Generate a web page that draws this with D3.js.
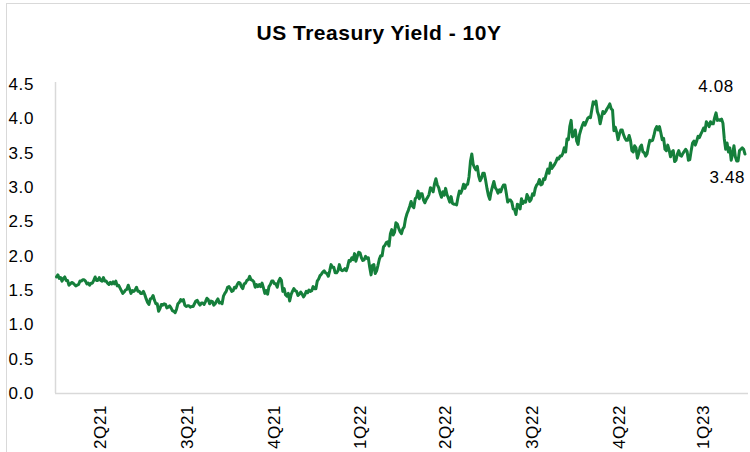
<!DOCTYPE html>
<html>
<head>
<meta charset="utf-8">
<script src="https://cdn.jsdelivr.net/npm/d3@7"></script>
<style>
  html, body { margin: 0; padding: 0; background: #fff; overflow: hidden; }
  text { font-family: "Liberation Sans", Arial, sans-serif; }
</style>
</head>
<body>
<svg id="chart" width="750" height="452"></svg>
<script>
// Daily 10-year US Treasury yield (%), one array per month
const apr21 = [1.69,1.72,1.67,1.68,1.63,1.67,1.69,1.64,1.64,1.57,1.59,1.61,1.60,1.58,1.56,1.57,1.58,1.63,1.63,1.65,1.65];
const may21 = [1.63,1.59,1.60,1.57,1.60,1.60,1.64,1.69,1.64,1.64,1.68,1.64,1.63,1.68,1.63,1.63,1.60,1.58,1.61,1.59];
const jun21 = [1.62,1.59,1.63,1.56,1.57,1.53,1.49,1.45,1.47,1.50,1.51,1.57,1.51,1.45,1.49,1.48,1.50,1.54,1.48,1.48,1.45,1.45];
const jul21 = [1.48,1.43,1.37,1.32,1.29,1.37,1.38,1.42,1.35,1.30,1.30,1.19,1.23,1.29,1.28,1.30,1.29,1.24,1.25,1.27,1.24];
const aug21 = [1.20,1.19,1.17,1.22,1.30,1.32,1.36,1.34,1.36,1.28,1.26,1.27,1.27,1.25,1.26,1.26,1.30,1.34,1.35,1.31,1.28,1.31];
const sep21 = [1.31,1.29,1.33,1.38,1.36,1.30,1.34,1.33,1.28,1.30,1.34,1.37,1.31,1.32,1.30,1.41,1.45,1.48,1.54,1.55,1.52];
const oct21 = [1.48,1.49,1.54,1.53,1.58,1.61,1.60,1.55,1.52,1.59,1.60,1.64,1.65,1.70,1.65,1.64,1.62,1.54,1.58,1.55];
const nov21 = [1.58,1.55,1.60,1.53,1.45,1.49,1.44,1.55,1.58,1.63,1.63,1.59,1.59,1.54,1.63,1.67,1.64,1.48,1.52,1.43];
const dec21 = [1.41,1.45,1.34,1.43,1.48,1.52,1.49,1.48,1.42,1.44,1.47,1.44,1.40,1.43,1.48,1.46,1.50,1.48,1.49,1.55,1.52,1.52];
const jan22 = [1.63,1.66,1.71,1.73,1.76,1.78,1.75,1.74,1.70,1.78,1.87,1.83,1.83,1.75,1.75,1.78,1.87,1.80,1.78,1.79];
const feb22 = [1.81,1.78,1.84,1.93,1.92,1.97,1.94,2.03,1.92,1.99,2.05,2.04,1.97,1.93,1.94,1.99,1.96,1.97,1.83];
const mar22 = [1.72,1.86,1.87,1.74,1.78,1.86,1.95,2.00,2.00,2.13,2.15,2.19,2.20,2.14,2.32,2.38,2.30,2.34,2.48,2.46,2.40,2.35,2.32];
const apr22 = [2.39,2.42,2.54,2.61,2.66,2.72,2.79,2.72,2.70,2.83,2.85,2.94,2.83,2.90,2.90,2.81,2.77,2.82,2.85,2.89];
const may22 = [2.99,2.97,2.93,3.05,3.12,3.03,2.99,2.91,2.85,2.93,2.88,2.98,2.89,2.84,2.78,2.86,2.76,2.75,2.75,2.74,2.85];
const jun22 = [2.94,2.91,2.96,3.04,2.98,3.03,3.04,3.15,3.37,3.48,3.33,3.28,3.25,3.30,3.16,3.09,3.13,3.20,3.20,3.10,2.98];
const jul22 = [2.88,2.82,2.93,3.01,3.08,2.99,2.96,2.91,2.96,2.93,2.99,3.03,3.03,2.91,2.78,2.81,2.81,2.78,2.68,2.67];
const aug22 = [2.60,2.75,2.73,2.68,2.83,2.76,2.79,2.78,2.89,2.85,2.79,2.82,2.90,2.88,2.98,3.03,3.05,3.11,3.03,3.04,3.12,3.11,3.19];
const sep22 = [3.26,3.20,3.35,3.27,3.30,3.33,3.37,3.42,3.41,3.45,3.45,3.49,3.57,3.51,3.70,3.69,3.88,3.97,3.73,3.76,3.83];
const oct22 = [3.67,3.62,3.76,3.83,3.89,3.94,3.90,3.95,4.00,4.02,4.01,4.13,4.24,4.21,4.25,4.10,4.04,3.92,4.01,4.10];
const nov22 = [4.07,4.10,4.14,4.17,4.21,4.14,4.12,3.82,3.87,3.80,3.69,3.77,3.83,3.83,3.76,3.71,3.68,3.68,3.75,3.68];
const dec22 = [3.53,3.51,3.60,3.57,3.42,3.49,3.58,3.61,3.51,3.50,3.45,3.48,3.59,3.68,3.67,3.68,3.75,3.84,3.88,3.83,3.88];
const jan23 = [3.79,3.69,3.71,3.55,3.53,3.61,3.54,3.44,3.51,3.53,3.37,3.39,3.48,3.53,3.46,3.45,3.49,3.52,3.55,3.52];
const feb23 = [3.39,3.40,3.53,3.64,3.67,3.61,3.67,3.74,3.72,3.77,3.81,3.86,3.82,3.95,3.92,3.88,3.95,3.92,3.92];
const mar23 = [4.01,4.08,3.97,3.98,3.97,3.99,3.93,3.70,3.55,3.64,3.51,3.57,3.39,3.48,3.60,3.44,3.38,3.38,3.53,3.55,3.57,3.55,3.48];

// Quarter labels and the months each one covers
const quarterLabels = ['2Q21','3Q21','4Q21','1Q22','2Q22','3Q22','4Q22','1Q23'];
const quarterMonths = [
  [apr21, may21, jun21], [jul21, aug21, sep21], [oct21, nov21, dec21],
  [jan22, feb22, mar22], [apr22, may22, jun22], [jul22, aug22, sep22],
  [oct22, nov22, dec22], [jan23, feb23, mar23]
];
const yTicks = [0, 0.5, 1, 1.5, 2, 2.5, 3, 3.5, 4, 4.5];

const series = quarterMonths.flat(2);
const n = series.length;

// centre index of each quarter, used for the category labels
const quarterCentres = [];
let start = 0;
quarterMonths.forEach(q => {
  const len = d3.sum(q, m => m.length);
  quarterCentres.push(start + (len - 1) / 2);
  start += len;
});

const W = 750, H = 452;
const plotLeft = 55, plotRight = 748, plotBottom = 393, plotTop = 84;
const FONT = '"Liberation Sans", Arial, sans-serif';

const svg = d3.select('#chart');
svg.append('rect').attr('width', W).attr('height', H).attr('fill', '#fff');

// chart frame
svg.append('rect')
  .attr('x', 6.5).attr('y', 3.5).attr('width', 800).attr('height', 500)
  .attr('fill', 'none').attr('stroke', '#d9d9d9').attr('stroke-width', 1);

const x = d3.scaleLinear().domain([0, n - 1]).range([56.5, 745]);
const y = d3.scaleLinear().domain([0, 4.5]).range([plotBottom, plotTop]);

// title
svg.append('text')
  .attr('x', 379).attr('y', 40)
  .attr('text-anchor', 'middle')
  .attr('font-size', 21).attr('font-weight', 'bold').attr('fill', '#000')
  .attr('letter-spacing', 0.5)
  .text('US Treasury Yield - 10Y');

// y axis
const yAxis = svg.append('g')
  .attr('transform', `translate(${plotLeft},0)`)
  .call(d3.axisLeft(y).tickValues(yTicks).tickFormat(d3.format('.1f')).tickSize(0).tickPadding(21));
yAxis.select('.domain').remove();
yAxis.selectAll('text')
  .attr('font-size', 17).attr('fill', '#000').attr('letter-spacing', 0.6)
  .style('font-family', FONT);

// axis lines
svg.append('line')
  .attr('x1', plotLeft + 0.5).attr('x2', plotLeft + 0.5)
  .attr('y1', plotTop - 2).attr('y2', plotBottom)
  .attr('stroke', '#d9d9d9').attr('stroke-width', 1.5);
svg.append('line')
  .attr('x1', plotLeft).attr('x2', plotRight)
  .attr('y1', plotBottom + 0.5).attr('y2', plotBottom + 0.5)
  .attr('stroke', '#d9d9d9').attr('stroke-width', 1.5);

// x axis: quarter labels, rotated
const xAxis = svg.append('g')
  .attr('transform', `translate(0,${plotBottom})`)
  .call(d3.axisBottom(x).tickValues(quarterCentres).tickFormat((d, i) => quarterLabels[i]).tickSize(0));
xAxis.select('.domain').remove();
xAxis.selectAll('text')
  .attr('font-size', 17).attr('fill', '#000').attr('letter-spacing', 0.6)
  .style('font-family', FONT)
  .attr('text-anchor', 'end')
  .attr('transform', 'rotate(-90)')
  .attr('x', -12).attr('y', 0).attr('dy', '0.35em');

// yield line
const line = d3.line().x((d, i) => x(i)).y(d => y(d));
svg.append('path')
  .datum(series)
  .attr('d', line)
  .attr('fill', 'none')
  .attr('stroke', '#157f3b')
  .attr('stroke-width', 3)
  .attr('stroke-linejoin', 'round')
  .attr('stroke-linecap', 'round');

// value labels: recent high and latest close
const maxIdx = d3.maxIndex(series.slice(n - 30)) + (n - 30);
svg.append('text')
  .attr('x', x(maxIdx)).attr('y', y(series[maxIdx]) - 21)
  .attr('text-anchor', 'middle').attr('font-size', 17).attr('fill', '#000')
  .attr('letter-spacing', 0.6)
  .text(series[maxIdx].toFixed(2));
const lastIdx = n - 1;
svg.append('text')
  .attr('x', Math.min(x(lastIdx), W - 1)).attr('y', y(series[lastIdx]) + 29)
  .attr('text-anchor', 'end').attr('font-size', 17).attr('fill', '#000')
  .attr('letter-spacing', 0.6)
  .text(series[lastIdx].toFixed(2));
</script>
</body>
</html>
